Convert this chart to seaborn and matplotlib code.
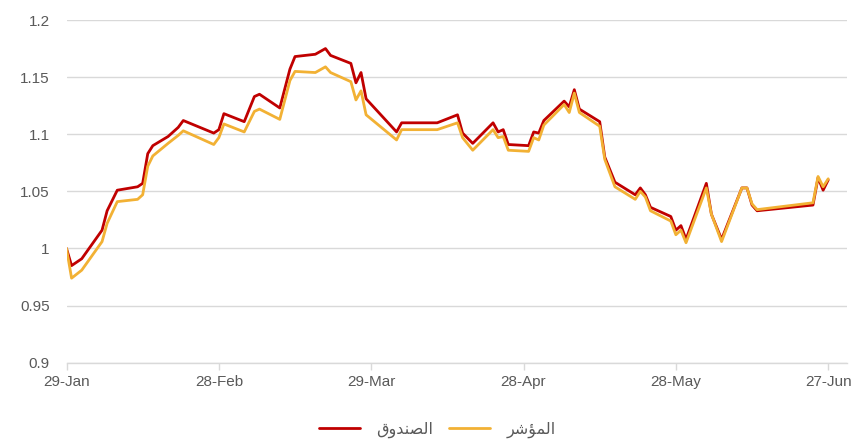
import matplotlib
matplotlib.use("Agg")
import matplotlib.pyplot as plt
import matplotlib.dates as mdates
from matplotlib.lines import Line2D
import pandas as pd
import seaborn as sns

# ---- data ----
dates = [
    "2024-01-29", "2024-01-30", "2024-02-01", "2024-02-05", "2024-02-06", "2024-02-08",
    "2024-02-12", "2024-02-13", "2024-02-14", "2024-02-15", "2024-02-18", "2024-02-20",
    "2024-02-21", "2024-02-27", "2024-02-28", "2024-02-29", "2024-03-04", "2024-03-06",
    "2024-03-07", "2024-03-11", "2024-03-13", "2024-03-14", "2024-03-18", "2024-03-20",
    "2024-03-21", "2024-03-25", "2024-03-26", "2024-03-27", "2024-03-28", "2024-04-03",
    "2024-04-04", "2024-04-11", "2024-04-15", "2024-04-16", "2024-04-18", "2024-04-22",
    "2024-04-23", "2024-04-24", "2024-04-25", "2024-04-29", "2024-04-30", "2024-05-01",
    "2024-05-02", "2024-05-06", "2024-05-07", "2024-05-08", "2024-05-09", "2024-05-13",
    "2024-05-14", "2024-05-16", "2024-05-20", "2024-05-21", "2024-05-22", "2024-05-23",
    "2024-05-27", "2024-05-28", "2024-05-29", "2024-05-30", "2024-06-03", "2024-06-04",
    "2024-06-06", "2024-06-10", "2024-06-11", "2024-06-12", "2024-06-13", "2024-06-24",
    "2024-06-25", "2024-06-26", "2024-06-27",
]
fund = [
    1.000, 0.985, 0.991, 1.016, 1.033, 1.051,
    1.054, 1.057, 1.083, 1.090, 1.098, 1.106,
    1.112, 1.101, 1.104, 1.118, 1.111, 1.133,
    1.135, 1.123, 1.157, 1.168, 1.170, 1.175,
    1.169, 1.162, 1.145, 1.154, 1.131, 1.102,
    1.110, 1.110, 1.117, 1.101, 1.092, 1.110,
    1.102, 1.104, 1.091, 1.090, 1.102, 1.101,
    1.112, 1.129, 1.124, 1.139, 1.122, 1.111,
    1.080, 1.058, 1.047, 1.053, 1.047, 1.036,
    1.028, 1.016, 1.020, 1.008, 1.057, 1.030,
    1.008, 1.053, 1.053, 1.038, 1.033, 1.038,
    1.062, 1.051, 1.060,
]
index = [
    1.000, 0.974, 0.981, 1.006, 1.022, 1.041,
    1.043, 1.047, 1.072, 1.081, 1.092, 1.099,
    1.103, 1.091, 1.097, 1.109, 1.102, 1.120,
    1.122, 1.113, 1.147, 1.155, 1.154, 1.159,
    1.154, 1.146, 1.130, 1.138, 1.117, 1.095,
    1.104, 1.104, 1.110, 1.097, 1.086, 1.104,
    1.097, 1.098, 1.086, 1.085, 1.097, 1.095,
    1.108, 1.126, 1.119, 1.136, 1.119, 1.107,
    1.078, 1.054, 1.043, 1.050, 1.045, 1.033,
    1.024, 1.012, 1.016, 1.005, 1.053, 1.030,
    1.006, 1.053, 1.053, 1.039, 1.034, 1.040,
    1.063, 1.054, 1.061,
]
tick_dates = ["2024-01-29", "2024-02-28", "2024-03-29", "2024-04-28", "2024-05-28", "2024-06-27"]
y_ticks = [0.9, 0.95, 1.0, 1.05, 1.1, 1.15, 1.2]
y_tick_labels = ["0.9", "0.95", "1", "1.05", "1.1", "1.15", "1.2"]

# Arabic series names (logical text) and their shaped visual forms for rendering
fund_name = "الصندوق"
index_name = "المؤشر"
fund_label = "\uFED5\uFEED\uFEAA\uFEE8\uFEBC\uFEDF\uFE8D"   # shaped الصندوق
index_label = "\uFEAE\uFEB7\uFE86\uFEE4\uFEDF\uFE8D"        # shaped المؤشر

fund_color = "#C00000"
index_color = "#F2B134"
grey_text = "#595959"
grid_color = "#D9D9D9"

# ---- build table ----
d = pd.to_datetime(dates)
df = pd.concat([
    pd.DataFrame({"date": d, "value": fund, "series": fund_name}),
    pd.DataFrame({"date": d, "value": index, "series": index_name}),
], ignore_index=True)

sns.set_theme(style="white")
plt.rcParams["font.family"] = ["Liberation Sans Narrow", "Liberation Sans", "DejaVu Sans"]

fig = plt.figure(figsize=(8.54, 4.42), dpi=100)
ax = fig.add_axes([66.5 / 854, 1 - 362.7 / 442, (847 - 66.5) / 854, (362.7 - 20) / 442])

sns.lineplot(data=df, x="date", y="value", hue="series",
             hue_order=[fund_name, index_name],
             palette={fund_name: fund_color, index_name: index_color},
             linewidth=2.0, legend=False, ax=ax, estimator=None, sort=False)

x0 = pd.Timestamp("2024-01-29")
ax.set_xlim(mdates.date2num(x0), mdates.date2num(x0 + pd.Timedelta(days=153.7)))
ax.set_ylim(0.9, 1.2)

ax.set_yticks(y_ticks)
ax.set_yticklabels(y_tick_labels)
ax.set_xticks(pd.to_datetime(tick_dates))
ax.xaxis.set_major_formatter(mdates.DateFormatter("%d-%b"))

ax.yaxis.grid(True, color=grid_color, linewidth=1.0)
ax.xaxis.grid(False)
ax.set_axisbelow(True)
for s in ["top", "right", "left"]:
    ax.spines[s].set_visible(False)
ax.spines["bottom"].set_color(grid_color)
ax.spines["bottom"].set_linewidth(1.0)

ax.tick_params(axis="y", length=0, pad=12, labelsize=11, labelcolor=grey_text)
ax.tick_params(axis="x", length=5, width=1.0, color=grid_color, direction="out",
               pad=4, labelsize=11, labelcolor=grey_text, bottom=True)
ax.set_xlabel("")
ax.set_ylabel("")

handles = [Line2D([0], [0], color=fund_color, lw=2.0),
           Line2D([0], [0], color=index_color, lw=2.0)]
leg = fig.legend(handles, [fund_label, index_label], loc="center",
                 bbox_to_anchor=(437 / 854, 1 - 430 / 442), ncol=2, frameon=False,
                 handlelength=2.6, handletextpad=1.0, columnspacing=1.0,
                 prop={"family": ["DejaVu Sans"], "size": 11.5})
for t in leg.get_texts():
    t.set_color(grey_text)

fig.savefig("out.png", dpi=100)
